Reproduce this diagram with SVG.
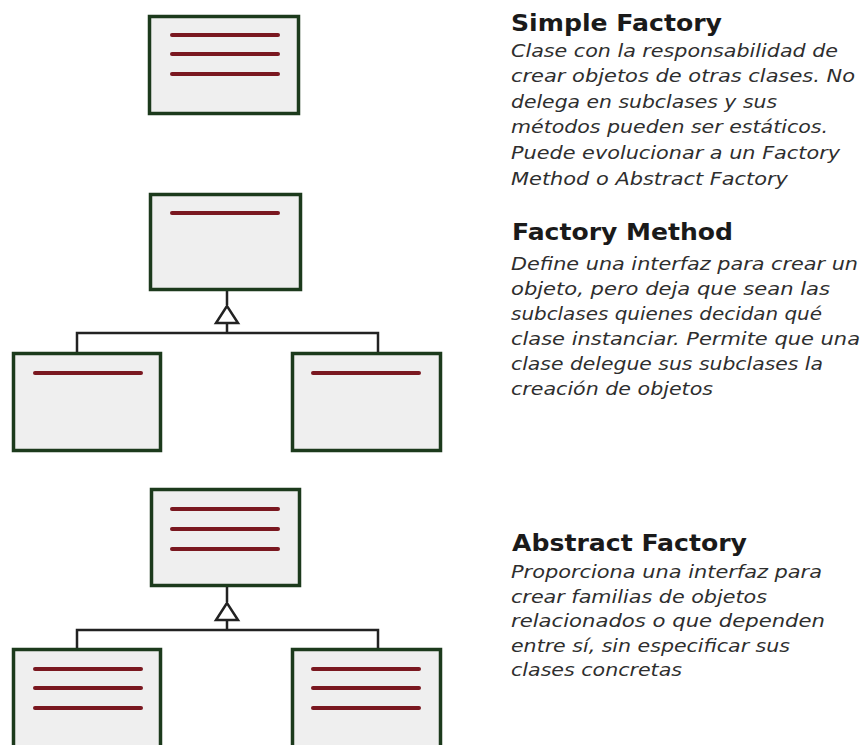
<svg xmlns="http://www.w3.org/2000/svg" width="861" height="745" viewBox="0 0 861 745">
<style>
.box{fill:#efefef;stroke:#1c3a1c;stroke-width:3.5}
.ln{stroke:#7a1820;stroke-width:4;stroke-linecap:round}
.con{fill:none;stroke:#222;stroke-width:2.5}
.tri{fill:#fff;stroke:#222;stroke-width:2.5;stroke-linejoin:miter}
.t{font-family:"DejaVu Sans",Verdana,sans-serif;font-weight:bold;font-size:23px;fill:#1a1a1a}
.d{font-family:"DejaVu Sans",Verdana,sans-serif;font-style:italic;font-size:17px;fill:#2e2e2e}
</style>
<rect width="861" height="745" fill="#fff"/>
<g id="simple-factory">
<rect class="box" x="149.5" y="16.5" width="149" height="97"/>
<line class="ln" x1="172" y1="35" x2="278" y2="35"/>
<line class="ln" x1="172" y1="54" x2="278" y2="54"/>
<line class="ln" x1="172" y1="74" x2="278" y2="74"/>
</g>
<g id="fm-creator">
<rect class="box" x="150.5" y="194.5" width="150" height="95"/>
<line class="ln" x1="172" y1="213" x2="278" y2="213"/>
</g>
<g id="fm-left">
<rect class="box" x="13.5" y="353.5" width="147" height="97"/>
<line class="ln" x1="35" y1="373" x2="141" y2="373"/>
</g>
<g id="fm-right">
<rect class="box" x="292.5" y="353.5" width="148" height="97"/>
<line class="ln" x1="313" y1="373" x2="419" y2="373"/>
</g>
<g id="af-abstract">
<rect class="box" x="151.5" y="489.5" width="148" height="96"/>
<line class="ln" x1="172" y1="509" x2="278" y2="509"/>
<line class="ln" x1="172" y1="529" x2="278" y2="529"/>
<line class="ln" x1="172" y1="549" x2="278" y2="549"/>
</g>
<g id="af-left">
<rect class="box" x="13.5" y="649.5" width="147" height="110"/>
<line class="ln" x1="35" y1="669" x2="141" y2="669"/>
<line class="ln" x1="35" y1="688" x2="141" y2="688"/>
<line class="ln" x1="35" y1="708" x2="141" y2="708"/>
</g>
<g id="af-right">
<rect class="box" x="292.5" y="649.5" width="148" height="110"/>
<line class="ln" x1="313" y1="669" x2="419" y2="669"/>
<line class="ln" x1="313" y1="688" x2="419" y2="688"/>
<line class="ln" x1="313" y1="708" x2="419" y2="708"/>
</g>
<g id="connectors">
<path class="con" d="M227 291 V305 M227 324 V333 M77 352 V333 H378 V352"/>
<polygon class="tri" points="227,306 216,323 238,323"/>
<path class="con" d="M227 587 V602 M227 620 V630 M77 648 V630 H378 V648"/>
<polygon class="tri" points="227,603 216,620 238,620"/>
</g>
<g id="texts">
<text class="t" x="511" y="31" textLength="211" lengthAdjust="spacingAndGlyphs">Simple Factory</text>
<text class="d" x="511" y="57" textLength="327" lengthAdjust="spacingAndGlyphs">Clase con la responsabilidad de</text>
<text class="d" x="511" y="82" textLength="344" lengthAdjust="spacingAndGlyphs">crear objetos de otras clases. No</text>
<text class="d" x="511" y="107.5" textLength="266" lengthAdjust="spacingAndGlyphs">delega en subclases y sus</text>
<text class="d" x="511" y="133" textLength="317" lengthAdjust="spacingAndGlyphs">métodos pueden ser estáticos.</text>
<text class="d" x="511" y="159" textLength="329" lengthAdjust="spacingAndGlyphs">Puede evolucionar a un Factory</text>
<text class="d" x="511" y="185" textLength="277" lengthAdjust="spacingAndGlyphs">Method o Abstract Factory</text>

<text class="t" x="512" y="240" textLength="221" lengthAdjust="spacingAndGlyphs">Factory Method</text>
<text class="d" x="511" y="270" textLength="347" lengthAdjust="spacingAndGlyphs">Define una interfaz para crear un</text>
<text class="d" x="511" y="295" textLength="319" lengthAdjust="spacingAndGlyphs">objeto, pero deja que sean las</text>
<text class="d" x="511" y="320" textLength="311" lengthAdjust="spacingAndGlyphs">subclases quienes decidan qué</text>
<text class="d" x="511" y="345" textLength="349" lengthAdjust="spacingAndGlyphs">clase instanciar. Permite que una</text>
<text class="d" x="511" y="370" textLength="312" lengthAdjust="spacingAndGlyphs">clase delegue sus subclases la</text>
<text class="d" x="511" y="395" textLength="202" lengthAdjust="spacingAndGlyphs">creación de objetos</text>

<text class="t" x="512" y="551" textLength="235" lengthAdjust="spacingAndGlyphs">Abstract Factory</text>
<text class="d" x="511" y="578" textLength="311" lengthAdjust="spacingAndGlyphs">Proporciona una interfaz para</text>
<text class="d" x="511" y="602.5" textLength="256" lengthAdjust="spacingAndGlyphs">crear familias de objetos</text>
<text class="d" x="511" y="627" textLength="314" lengthAdjust="spacingAndGlyphs">relacionados o que dependen</text>
<text class="d" x="511" y="651.5" textLength="279" lengthAdjust="spacingAndGlyphs">entre sí, sin especificar sus</text>
<text class="d" x="511" y="676" textLength="171" lengthAdjust="spacingAndGlyphs">clases concretas</text>
</g>
</svg>
